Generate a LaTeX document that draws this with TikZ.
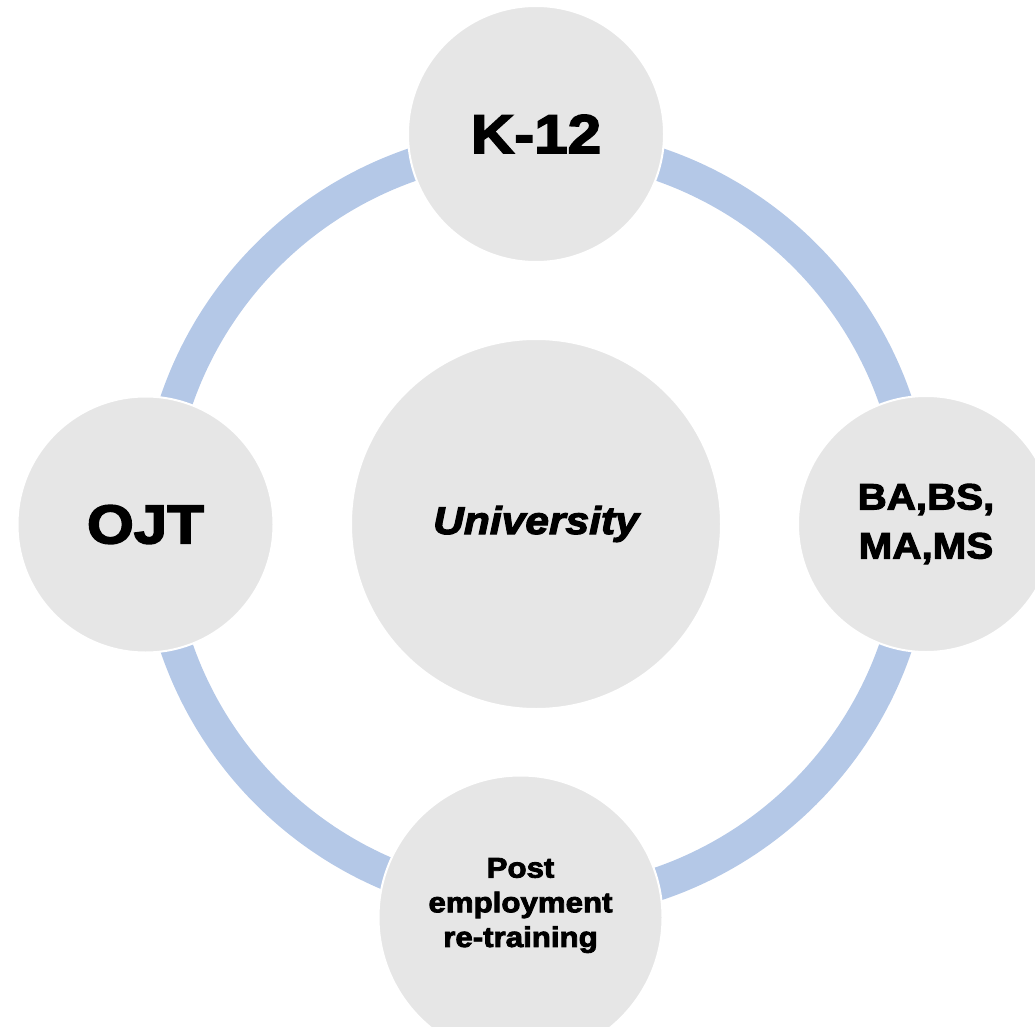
\documentclass[tikz,border=0pt]{standalone}
\usepackage{fontspec}
\newfontfamily\heavyfont[FakeStretch=1.1, FakeBold=3]{Liberation Sans Bold}
\newfontfamily\heavyitfont[FakeStretch=1.1, FakeBold=3]{Liberation Sans Bold Italic}

\definecolor{ringblue}{RGB}{180,200,231}
\definecolor{bubblegray}{RGB}{230,230,230}

\tikzset{
  ring/.style = {ringblue, line width = 24.75pt},
  bubble/.style = {circle, fill = bubblegray, draw = white,
    line width = 1.5pt, inner sep = 0pt, align = center,
    minimum size = #1*1.5pt},
  bigtext/.style = {font = \heavyfont\fontsize{41}{49}\selectfont},
  midtext/.style = {font = \heavyfont\fontsize{27.5}{36.75}\selectfont},
  smalltext/.style = {font = \heavyfont\fontsize{21.3}{26}\selectfont}
}

\begin{document}
\begin{tikzpicture}[x = 0.75pt, y = -0.75pt]

  % Page frame, in pixels from the top left corner

  \useasboundingbox (0,0) rectangle (1035,1027);
  \clip (0,0) rectangle (1035,1027);

  % Hub of the cycle, and the ring that joins the stages

  \coordinate (hub) at (536,524);
  \draw[ring] (hub) circle (380);

  % The stages sit on the ring, drawn after it
  %   so that they cover it

  \node[bubble = 185] (uni) at (hub)
    {\heavyitfont\fontsize{29}{34}\selectfont University};
  \node[bubble = 128, bigtext] (k12)    at (536,134)     {K-12};
  \node[bubble = 128, bigtext] (ojt)    at (145.5,524.5) {OJT};
  \node[bubble = 128, midtext] (degree) at (926,524)     {BA,BS,\\MA,MS};
  \node[bubble = 142]          (post)   at (520.5,917.5) {};

  % Text of the bottom stage stands a little above its centre

  \node[smalltext, align = center] (posttext) at ([yshift = 9pt]post.center)
    {Post\\employment\\re-training};

\end{tikzpicture}
\end{document}
